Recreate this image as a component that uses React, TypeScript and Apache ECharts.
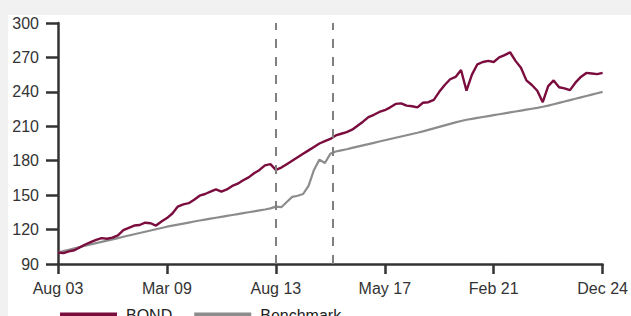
import React, { useEffect, useRef } from "react";
import * as echarts from "echarts";

const tickLabels = ["Aug 03", "Mar 09", "Aug 13", "May 17", "Feb 21", "Dec 24"];
const yTicks = [90, 120, 150, 180, 210, 240, 270, 300];
const eventMarks = [40, 50.5];

const bond = [
  100, 99.5, 101, 102, 104.5, 107, 109, 111, 112.5, 112,
  113, 115, 119.5, 121.5, 123.5, 124, 126, 125.5, 123.5, 127,
  130, 134, 140, 142, 143, 146, 149.5, 151, 153, 155,
  153, 155, 158, 160, 163, 165.5, 169, 172, 176, 177,
  172, 174, 177, 180, 183, 186, 189, 192, 195, 197,
  199, 202, 203.5, 205, 207, 210.5, 214, 218, 220, 222.5,
  224, 226.5, 229.5, 230, 228, 227.5, 226.5, 230.5, 231, 233,
  240, 246, 251, 253, 259, 241, 255, 264, 266, 267,
  266, 270, 272, 274.5, 267, 261, 250, 246, 241, 231,
  245, 250, 244, 243, 241.5, 248, 253, 256.5, 256, 255.5,
  256.5,
];

const benchmark = [
  100, 101.2, 102.4, 103.6, 104.8, 106, 107.1, 108.2, 109.3, 110.4,
  111.5, 112.6, 113.7, 114.8, 115.9, 117, 118.1, 119.2, 120.3, 121.4,
  122.5, 123.4, 124.3, 125.2, 126.1, 127, 127.9, 128.7, 129.5, 130.3,
  131.1, 131.9, 132.7, 133.5, 134.3, 135.1, 135.9, 136.7, 137.5, 138.5,
  140, 139.5, 144, 148.5, 149.5, 151, 158, 172, 181, 178,
  186, 188, 189, 190, 191.2, 192.3, 193.4, 194.5, 195.6, 196.7,
  197.8, 198.9, 200, 201.1, 202.2, 203.3, 204.4, 205.6, 206.9, 208.2,
  209.5, 210.8, 212.1, 213.4, 214.6, 215.7, 216.5, 217.3, 218.1, 218.9,
  219.7, 220.5, 221.3, 222.1, 222.9, 223.7, 224.5, 225.3, 226.1, 227,
  228, 229.2, 230.4, 231.6, 232.8, 234, 235.2, 236.4, 237.6, 238.8,
  240,
];

const BOND_COLOR = "#7b0c3e";
const BENCH_COLOR = "#8c8c8c";
const AXIS_COLOR = "#333333";
const FONT = "'Liberation Sans', Arial, sans-serif";

export default function App() {
  const ref = useRef<HTMLDivElement>(null);

  useEffect(() => {
    if (!ref.current) return;
    const chart = echarts.init(ref.current, undefined, { renderer: "svg" });
    const last = bond.length - 1;
    const step = last / (tickLabels.length - 1);
    chart.setOption({
      animation: false,
      backgroundColor: "#ffffff",
      grid: { left: 50, top: 7, right: 25, bottom: 71, containLabel: false },
      legend: {
        left: 47,
        top: 287,
        itemWidth: 57,
        itemHeight: 5,
        itemGap: 22,
        icon: "rect",
        textStyle: { fontFamily: FONT, fontSize: 16, color: "#222", padding: [0, 0, 0, 4] },
        data: [
          { name: "BOND", itemStyle: { color: BOND_COLOR } },
          { name: "Benchmark", itemStyle: { color: BENCH_COLOR } },
        ],
      },
      xAxis: {
        type: "value",
        min: 0,
        max: last,
        interval: step,
        axisLine: { show: true, lineStyle: { color: AXIS_COLOR, width: 2.5 } },
        axisTick: { show: true, length: 10, lineStyle: { color: AXIS_COLOR, width: 2.5 } },
        splitLine: { show: false },
        axisLabel: {
          margin: 16,
          fontFamily: FONT,
          fontSize: 16,
          color: "#333",
          formatter: (v: number) => tickLabels[Math.round(v / step)] ?? "",
        },
      },
      yAxis: {
        type: "value",
        min: yTicks[0],
        max: yTicks[yTicks.length - 1],
        interval: yTicks[1] - yTicks[0],
        axisLine: { show: true, lineStyle: { color: AXIS_COLOR, width: 2.5 } },
        axisTick: { show: true, length: 12, lineStyle: { color: AXIS_COLOR, width: 2.5 } },
        splitLine: { show: false },
        axisLabel: { margin: 19, fontFamily: FONT, fontSize: 16, color: "#333" },
      },
      series: [
        {
          name: "Benchmark",
          type: "line",
          data: benchmark.map((v, i) => [i, v]),
          showSymbol: false,
          lineStyle: { color: BENCH_COLOR, width: 2.2 },
          itemStyle: { color: BENCH_COLOR },
          z: 2,
        },
        {
          name: "BOND",
          type: "line",
          data: bond.map((v, i) => [i, v]),
          showSymbol: false,
          lineStyle: { color: BOND_COLOR, width: 2.4 },
          itemStyle: { color: BOND_COLOR },
          z: 3,
          markLine: {
            silent: true,
            symbol: "none",
            label: { show: false },
            lineStyle: { color: "#808080", width: 2, type: [9, 9] },
            data: eventMarks.map((x) => ({ xAxis: x })),
          },
        },
      ],
    });
    return () => chart.dispose();
  }, []);

  return (
    <div style={{ position: "fixed", inset: 0, background: "#f1f1f1", overflow: "hidden" }}>
      <div
        ref={ref}
        style={{ position: "absolute", left: 8, top: 15, width: 623, height: 320 }}
      />
    </div>
  );
}
